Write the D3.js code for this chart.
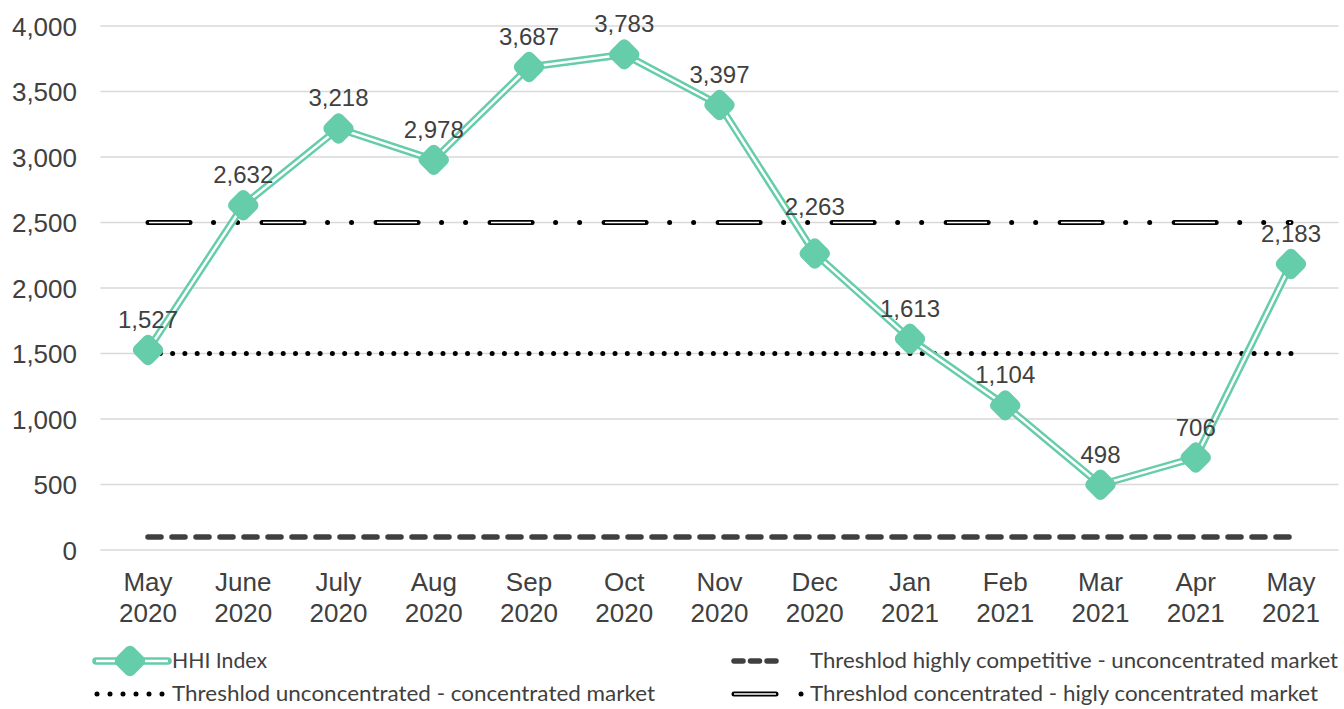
<!DOCTYPE html>
<html>
<head>
<meta charset="utf-8">
<script src="https://cdn.jsdelivr.net/npm/d3@7"></script>
<style>
  html, body { margin: 0; padding: 0; background: #fff; }
  svg { display: block; }
</style>
</head>
<body>
<svg id="chart" width="1344" height="709"></svg>
<script>
// Monthly HHI values, May 2020 – May 2021
const months = ["May", "June", "July", "Aug", "Sep", "Oct", "Nov", "Dec", "Jan", "Feb", "Mar", "Apr", "May"];
const years  = ["2020", "2020", "2020", "2020", "2020", "2020", "2020", "2020", "2021", "2021", "2021", "2021", "2021"];
const hhi    = [1527, 2632, 3218, 2978, 3687, 3783, 3397, 2263, 1613, 1104, 498, 706, 2183];

// Market-structure thresholds
const thresholdCompetitive  = 100;
const thresholdConcentrated = 1500;
const thresholdHigh         = 2500;

const yTicks = [0, 500, 1000, 1500, 2000, 2500, 3000, 3500, 4000];

const legendLabels = [
  "HHI Index",
  "Threshlod highly competitive - unconcentrated market",
  "Threshlod unconcentrated - concentrated market",
  "Threshlod concentrated - higly concentrated market"
];

const GREEN = "#66cdaa";
const TEXT = "#404040";
const svg = d3.select("#chart");

const margin = { left: 100.4, right: 1338.6, top: 26, bottom: 550 };
const keys = months.map((m, i) => i);

const x = d3.scaleBand().domain(keys).range([margin.left, margin.right]).paddingInner(0).paddingOuter(0);
const cx = i => x(i) + x.bandwidth() / 2;
const y = d3.scaleLinear().domain([0, 4000]).range([margin.bottom, margin.top]);

const fmt = d3.format(",");

// Horizontal gridlines
svg.append("g")
  .selectAll("line")
  .data(yTicks)
  .join("line")
  .attr("x1", margin.left).attr("x2", margin.right)
  .attr("y1", d => y(d)).attr("y2", d => y(d))
  .attr("stroke", "#d9d9d9").attr("stroke-width", 1.5);

// Y axis labels
const yAxis = d3.axisLeft(y).tickValues(yTicks).tickFormat(fmt).tickSize(0).tickPadding(0);
const gy = svg.append("g").attr("transform", "translate(77,0)").call(yAxis);
gy.select(".domain").remove();
gy.selectAll("text")
  .attr("fill", TEXT)
  .attr("font-family", "Liberation Sans, Arial, sans-serif")
  .attr("font-size", 26)
  .attr("dy", "0.35em");

// X axis labels (two lines)
const gx = svg.append("g");
gx.selectAll("text")
  .data(keys)
  .join("text")
  .attr("x", d => cx(d))
  .attr("text-anchor", "middle")
  .attr("fill", TEXT)
  .attr("font-family", "Liberation Sans, Arial, sans-serif")
  .attr("font-size", 26)
  .each(function(d) {
    const t = d3.select(this);
    t.append("tspan").attr("x", cx(d)).attr("y", 591).text(months[d]);
    t.append("tspan").attr("x", cx(d)).attr("y", 622).text(years[d]);
  });

const xStart = cx(0), xEnd = cx(keys.length - 1);
const span = xEnd - xStart;
const lineH = d3.line().x(d => d[0]).y(d => d[1]);

// Highly competitive threshold: heavy dashes
svg.append("path")
  .attr("d", lineH([[xStart, y(thresholdCompetitive)], [xEnd, y(thresholdCompetitive)]]))
  .attr("stroke", TEXT).attr("stroke-width", 5.5)
  .attr("stroke-linecap", "round")
  .attr("stroke-dasharray", "13 11")
  .attr("fill", "none");

// Concentrated threshold: round dots, spaced to land on both ends
const dotGap = span / Math.round(span / 12.3);
svg.append("path")
  .attr("d", lineH([[xStart, y(thresholdConcentrated)], [xEnd, y(thresholdConcentrated)]]))
  .attr("stroke", "#000").attr("stroke-width", 5)
  .attr("stroke-linecap", "round")
  .attr("stroke-dasharray", `0.01 ${dotGap - 0.01}`)
  .attr("fill", "none");

// Highly concentrated threshold: double-stroke long dash, dot, dot
const hiPts = [[xStart, y(thresholdHigh)], [xEnd, y(thresholdHigh)]];
svg.append("path")
  .attr("d", lineH(hiPts))
  .attr("stroke", "#000").attr("stroke-width", 5)
  .attr("stroke-linecap", "round")
  .attr("stroke-dasharray", "42 23.5 0.01 24 0.01 24.5")
  .attr("fill", "none");
svg.append("path")
  .attr("d", lineH(hiPts))
  .attr("stroke", "#fff").attr("stroke-width", 1.5)
  .attr("stroke-dasharray", "40 74")
  .attr("stroke-dashoffset", -1)
  .attr("fill", "none");

// HHI line: green double stroke
const hhiLine = d3.line().x((d, i) => cx(i)).y(d => y(d));
svg.append("path")
  .datum(hhi)
  .attr("d", hhiLine)
  .attr("stroke", GREEN).attr("stroke-width", 7.5)
  .attr("stroke-linejoin", "round")
  .attr("fill", "none");
svg.append("path")
  .datum(hhi)
  .attr("d", hhiLine)
  .attr("stroke", "#fff").attr("stroke-width", 2.5)
  .attr("stroke-linejoin", "round")
  .attr("fill", "none");

// Diamond markers with rounded corners
const MK = 25, MR = 6;
svg.append("g")
  .selectAll("rect")
  .data(hhi)
  .join("rect")
  .attr("x", -MK / 2).attr("y", -MK / 2)
  .attr("width", MK).attr("height", MK)
  .attr("rx", MR).attr("ry", MR)
  .attr("fill", GREEN)
  .attr("transform", (d, i) => `translate(${cx(i)},${y(d)}) rotate(45)`);

// Value labels (the December label is lifted clear of the 2,500 line)
svg.append("g")
  .selectAll("text")
  .data(hhi)
  .join("text")
  .attr("x", (d, i) => cx(i))
  .attr("y", (d, i) => y(d) - 22 - (i === 7 ? 17 : 0))
  .attr("text-anchor", "middle")
  .attr("fill", TEXT)
  .attr("font-family", "Liberation Sans, Arial, sans-serif")
  .attr("font-size", 24)
  .text(d => fmt(d));

// Legend
const lg = svg.append("g")
  .attr("font-family", "Lato, 'Open Sans', sans-serif")
  .attr("font-size", 21)
  .attr("fill", TEXT);
const row1 = 661, row2 = 694;

// HHI swatch
lg.append("line").attr("x1", 96).attr("x2", 168).attr("y1", row1).attr("y2", row1)
  .attr("stroke", GREEN).attr("stroke-width", 7.5).attr("stroke-linecap", "round");
lg.append("line").attr("x1", 96).attr("x2", 168).attr("y1", row1).attr("y2", row1)
  .attr("stroke", "#fff").attr("stroke-width", 2.5);
lg.append("rect").attr("x", -MK / 2).attr("y", -MK / 2).attr("width", MK).attr("height", MK)
  .attr("rx", MR).attr("fill", GREEN)
  .attr("transform", `translate(130,${row1}) rotate(45)`);
lg.append("text").attr("x", 172).attr("y", row1).attr("dy", "0.35em")
  .attr("textLength", 95).attr("lengthAdjust", "spacingAndGlyphs").text(legendLabels[0]);

// Dotted swatch
lg.append("line").attr("x1", 97).attr("x2", 162).attr("y1", row2).attr("y2", row2)
  .attr("stroke", "#000").attr("stroke-width", 5).attr("stroke-linecap", "round")
  .attr("stroke-dasharray", "0.01 12.99");
lg.append("text").attr("x", 172).attr("y", row2).attr("dy", "0.35em")
  .attr("textLength", 483).attr("lengthAdjust", "spacingAndGlyphs").text(legendLabels[2]);

// Dashed swatch
lg.append("line").attr("x1", 734).attr("x2", 776).attr("y1", row1).attr("y2", row1)
  .attr("stroke", TEXT).attr("stroke-width", 5.5).attr("stroke-linecap", "round")
  .attr("stroke-dasharray", "9 7.5");
lg.append("text").attr("x", 810).attr("y", row1).attr("dy", "0.35em")
  .attr("textLength", 528).attr("lengthAdjust", "spacingAndGlyphs").text(legendLabels[1]);

// Long dash + dot swatch
lg.append("line").attr("x1", 734).attr("x2", 776).attr("y1", row2).attr("y2", row2)
  .attr("stroke", "#000").attr("stroke-width", 5).attr("stroke-linecap", "round");
lg.append("line").attr("x1", 734).attr("x2", 776).attr("y1", row2).attr("y2", row2)
  .attr("stroke", "#fff").attr("stroke-width", 1.5);
lg.append("circle").attr("cx", 801).attr("cy", row2).attr("r", 2.5).attr("fill", "#000");
lg.append("text").attr("x", 810).attr("y", row2).attr("dy", "0.35em")
  .attr("textLength", 508).attr("lengthAdjust", "spacingAndGlyphs").text(legendLabels[3]);
</script>
</body>
</html>
